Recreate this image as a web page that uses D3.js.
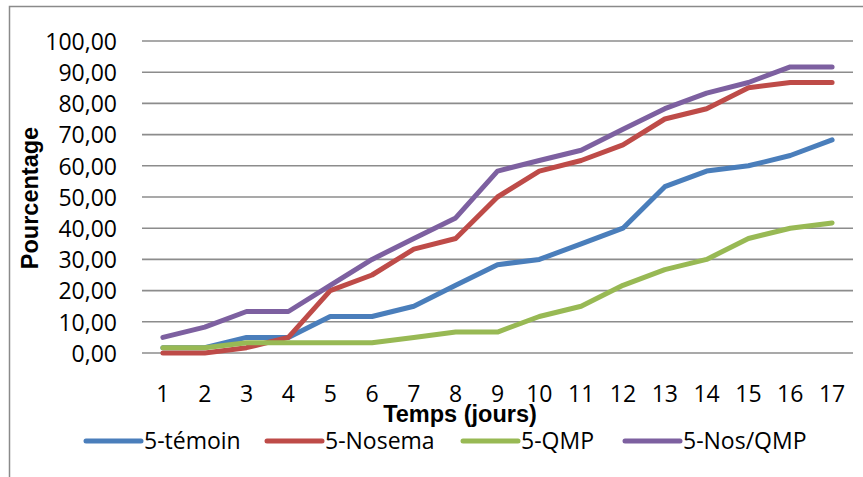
<!DOCTYPE html>
<html>
<head>
<meta charset="utf-8">
<script src="https://cdn.jsdelivr.net/npm/d3@7"></script>
<style>
  html, body { margin: 0; padding: 0; background: #fff; }
  svg { display: block; }
  .tick-label { font-family: "Open Sans", sans-serif; font-size: 23px; fill: #000; }
  .axis-title { font-family: "Liberation Sans", Arial, sans-serif; font-size: 23.5px; font-weight: bold; fill: #000; }
  .legend-label { font-family: "Open Sans", sans-serif; font-size: 23px; fill: #000; }
</style>
</head>
<body>
<svg id="chart" width="863" height="477"></svg>
<script>
// Days of observation
const days = [1, 2, 3, 4, 5, 6, 7, 8, 9, 10, 11, 12, 13, 14, 15, 16, 17];

// Cumulative percentage per group
const temoin  = [1.7, 1.7, 5.0, 5.0, 11.7, 11.7, 15.0, 21.7, 28.3, 30.0, 35.0, 40.0, 53.3, 58.3, 60.0, 63.3, 68.3];
const nosema  = [0.0, 0.0, 1.7, 5.0, 20.0, 25.0, 33.3, 36.7, 50.0, 58.3, 61.7, 66.7, 75.0, 78.3, 85.0, 86.7, 86.7];
const qmp     = [1.7, 1.7, 3.3, 3.3, 3.3, 3.3, 5.0, 6.7, 6.7, 11.7, 15.0, 21.7, 26.7, 30.0, 36.7, 40.0, 41.7];
const nosQmp  = [5.0, 8.3, 13.3, 13.3, 21.7, 30.0, 36.7, 43.3, 58.3, 61.7, 65.0, 71.7, 78.3, 83.3, 86.7, 91.7, 91.7];

const seriesNames = ["5-témoin", "5-Nosema", "5-QMP", "5-Nos/QMP"];
const seriesColors = ["#4A7EBB", "#BE4B48", "#98B954", "#7D60A0"];
const yTicks = [0, 10, 20, 30, 40, 50, 60, 70, 80, 90, 100];

const series = [temoin, nosema, qmp, nosQmp].map((values, i) => ({
  name: seriesNames[i],
  color: seriesColors[i],
  values: values.map((v, j) => ({ day: days[j], value: v }))
}));

const svg = d3.select("#chart");

// Outer chart frame (clipped on the right and bottom)
svg.append("rect")
  .attr("x", 9.5).attr("y", 6.5)
  .attr("width", 870).attr("height", 490)
  .attr("fill", "none")
  .attr("stroke", "#8a8a8a")
  .attr("stroke-width", 1.5);

const plot = { left: 142, right: 853, top: 41, bottom: 353 };

const x = d3.scaleBand()
  .domain(days)
  .range([plot.left, plot.right])
  .paddingInner(0).paddingOuter(0);

const y = d3.scaleLinear()
  .domain([0, 100])
  .range([plot.bottom, plot.top]);

const fmt = v => d3.format(".2f")(v).replace(".", ",");

// Horizontal gridlines
svg.append("g")
  .selectAll("line")
  .data(yTicks)
  .join("line")
  .attr("x1", plot.left).attr("x2", plot.right)
  .attr("y1", d => y(d)).attr("y2", d => y(d))
  .attr("stroke", "#8c8c8c")
  .attr("stroke-width", 1.6);

// Y axis labels
const yAxis = d3.axisLeft(y).tickValues(yTicks).tickFormat(fmt).tickSize(0).tickPadding(0);
const gy = svg.append("g")
  .attr("transform", `translate(117,0)`)
  .call(yAxis);
gy.select(".domain").remove();
gy.selectAll("text")
  .attr("class", "tick-label")
  .attr("x", 0)
  .attr("dy", "0.36em")
  .attr("font-size", null).attr("font-family", null);

// X axis labels
const xAxis = d3.axisBottom(x).tickSize(0).tickPadding(0);
const gx = svg.append("g")
  .attr("transform", `translate(0,${plot.bottom})`)
  .call(xAxis);
gx.select(".domain").remove();
gx.selectAll("text")
  .attr("class", "tick-label")
  .attr("y", 49)
  .attr("dy", 0)
  .attr("font-size", null).attr("font-family", null);

// Lines
const line = d3.line()
  .x(d => x(d.day) + x.bandwidth() / 2)
  .y(d => y(d.value));

svg.append("g")
  .selectAll("path")
  .data(series)
  .join("path")
  .attr("d", d => line(d.values))
  .attr("fill", "none")
  .attr("stroke", d => d.color)
  .attr("stroke-width", 5)
  .attr("stroke-linejoin", "round")
  .attr("stroke-linecap", "round");

// Axis titles
svg.append("text")
  .attr("class", "axis-title")
  .attr("x", 460).attr("y", 422)
  .attr("text-anchor", "middle")
  .text("Temps (jours)");

svg.append("text")
  .attr("class", "axis-title")
  .attr("transform", "translate(38,198) rotate(-90)")
  .attr("text-anchor", "middle")
  .text("Pourcentage");

// Legend
const legendX = [86, 267, 463, 625];
const legend = svg.append("g")
  .selectAll("g")
  .data(series)
  .join("g")
  .attr("transform", (d, i) => `translate(${legendX[i]},441)`);

legend.append("line")
  .attr("x1", 0).attr("x2", 55)
  .attr("y1", 0).attr("y2", 0)
  .attr("stroke", d => d.color)
  .attr("stroke-width", 5)
  .attr("stroke-linecap", "round");

legend.append("text")
  .attr("class", "legend-label")
  .attr("x", 58)
  .attr("y", 0)
  .attr("dy", "0.36em")
  .text(d => d.name);
</script>
</body>
</html>
